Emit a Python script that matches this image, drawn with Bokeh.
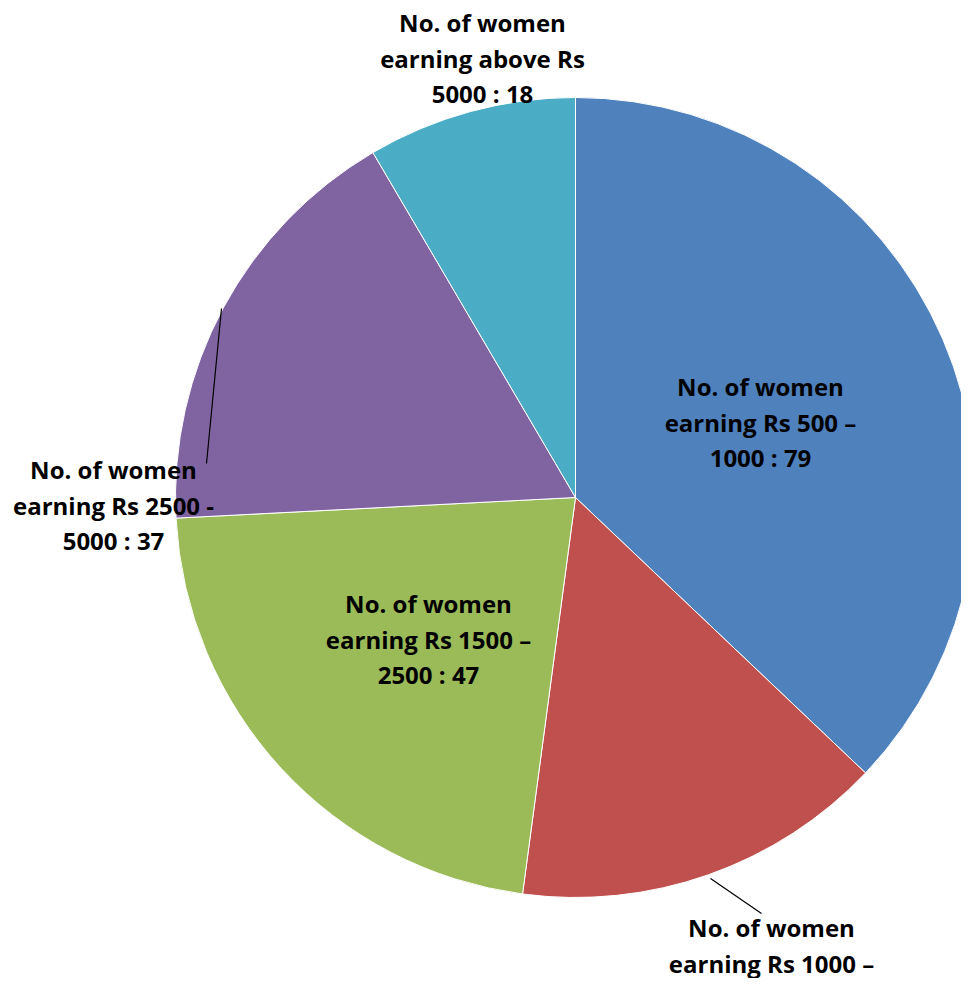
import math
from bokeh.plotting import figure
from bokeh.models import ColumnDataSource, Range1d
from bokeh.core.properties import value
from bokeh.embed import file_html
from bokeh.resources import INLINE

# ---- data ----
categories = [
    "No. of women earning Rs 500 – 1000",
    "No. of women earning Rs 1000 – 1500",
    "No. of women earning Rs 1500 – 2500",
    "No. of women earning Rs 2500 - 5000",
    "No. of women earning above Rs 5000",
]
counts = [79, 32, 47, 37, 18]
colors = ["#4F81BD", "#C0504D", "#9BBB59", "#8064A2", "#4BACC6"]
label_lines = [
    ["No. of women", "earning Rs 500 –", "1000 : 79"],
    ["No. of women", "earning Rs 1000 –"],
    ["No. of women", "earning Rs 1500 –", "2500 : 47"],
    ["No. of women", "earning Rs 2500 -", "5000 : 37"],
    ["No. of women", "earning above Rs", "5000 : 18"],
]

# ---- layout (pixels relative to pie centre, y up) ----
R = 400
W, H = 961, 978
CX, CY = 575, 497  # centre position inside the canvas (from left, from top)
# x of label centre, y of first line of each label
label_pos = [(185, 111), (196, -430), (-147, -106), (-462, 28), (-93, 475)]
line_step = 35.5
leaders = [None, ((135, -381), (186, -416)), None, ((-354, 189), (-369, 34)), None]

p = figure(width=W, height=H, output_backend="svg", toolbar_location=None,
           x_range=Range1d(-CX, W - CX), y_range=Range1d(-(H - CY), CY),
           min_border=0)
p.axis.visible = False
p.grid.visible = False
p.outline_line_color = None
p.background_fill_color = "white"

total = sum(counts)
cum = 0
starts, ends = [], []
for c in counts:
    s = cum / total
    cum += c
    e = cum / total
    # clockwise from 12 o'clock
    starts.append(math.pi / 2 - e * 2 * math.pi)
    ends.append(math.pi / 2 - s * 2 * math.pi)

src = ColumnDataSource(dict(x=[0] * len(counts), y=[0] * len(counts),
                            start=starts, end=ends, color=colors))
p.wedge(x="x", y="y", radius=R, start_angle="start", end_angle="end",
        direction="anticlock", fill_color="color", line_color="white",
        line_width=1, source=src)

for ld in leaders:
    if ld:
        (x0, y0), (x1, y1) = ld
        p.line([x0, x1], [y0, y1], line_color="black", line_width=1.2)

tx, ty, tt = [], [], []
for (lx, ly), lines in zip(label_pos, label_lines):
    for i, t in enumerate(lines):
        tx.append(lx)
        ty.append(ly - line_step * i)
        tt.append(t)
p.text(x=tx, y=ty, text=tt, text_font=value("Open Sans"), text_font_style="bold",
       text_font_size="24px", text_align="center", text_baseline="middle",
       text_color="black")

open("out.html", "w").write(file_html(p, INLINE))
